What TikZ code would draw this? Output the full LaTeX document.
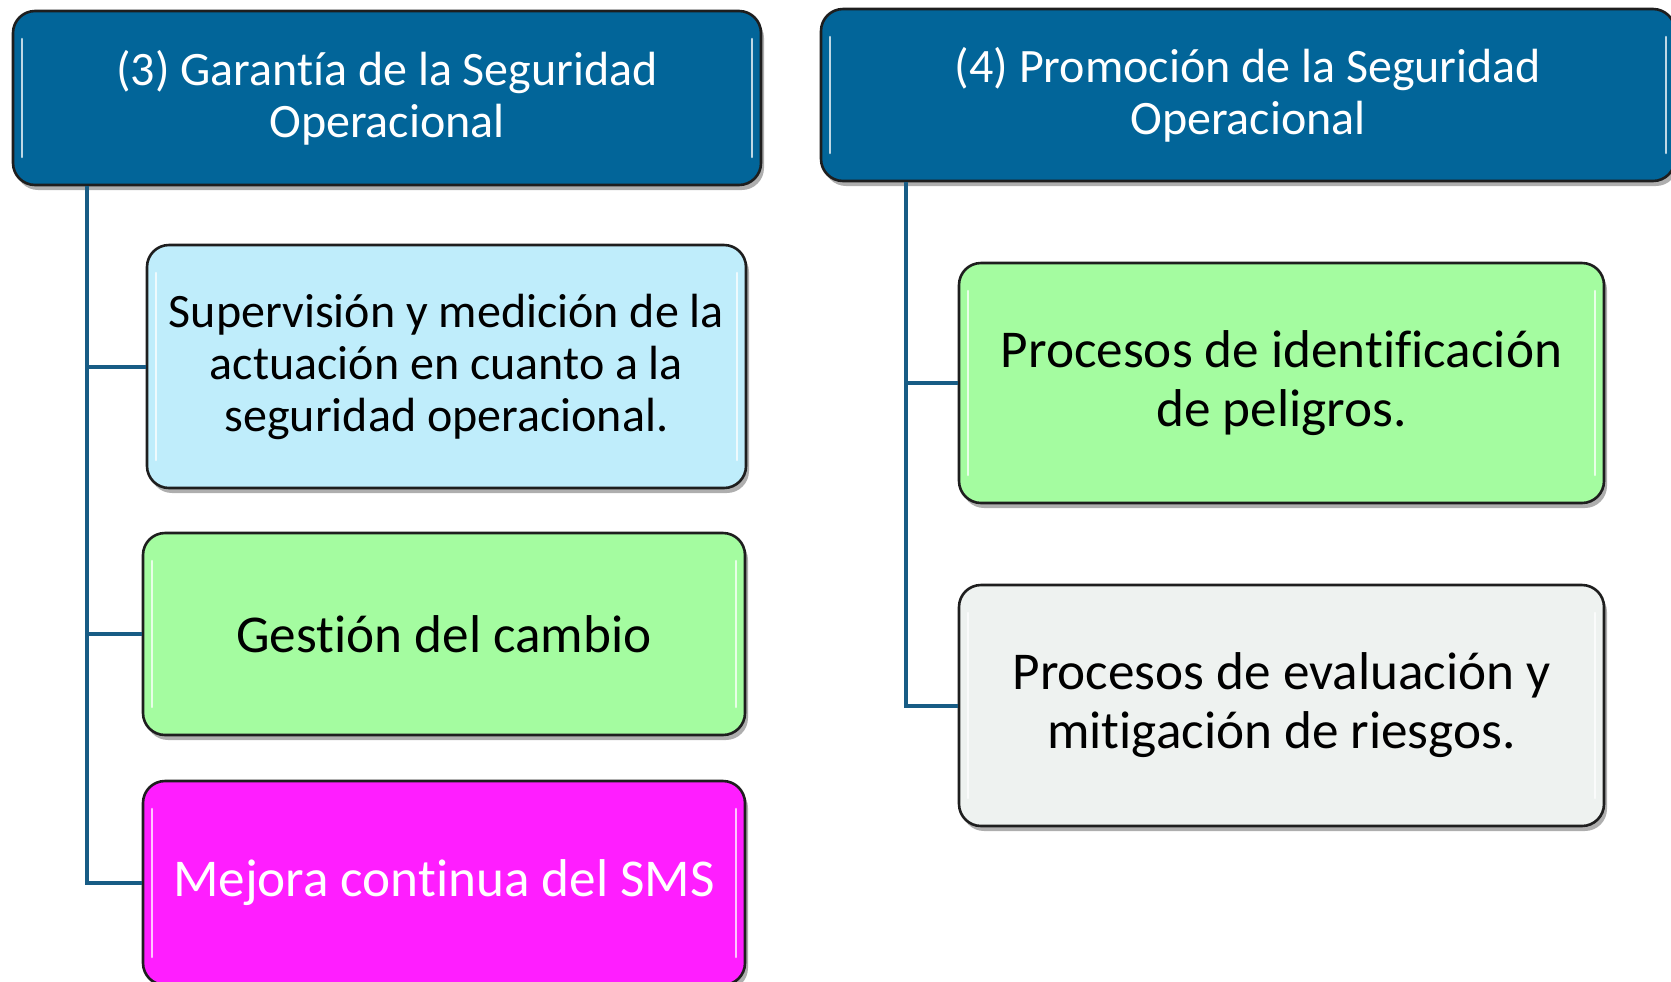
\documentclass[tikz,border=0pt]{standalone}
\usepackage{fontspec}
\setmainfont{Carlito}[Ligatures={NoCommon}]
\usetikzlibrary{shadows,calc}
\definecolor{hdrblue}{RGB}{2,101,153}
\definecolor{trunkc}{RGB}{24,92,133}
\definecolor{lblue}{RGB}{191,237,251}
\definecolor{lgreen}{RGB}{164,252,160}
\definecolor{mag}{RGB}{255,30,255}
\definecolor{lgray}{RGB}{238,242,240}
\definecolor{edgec}{RGB}{30,30,30}
\tikzset{
  gloss/.style={path picture={
    \draw[white,line width=1.3pt,opacity=.75,line cap=round]
      ([xshift=4.5pt,yshift=-14pt]path picture bounding box.north west) --
      ([xshift=4.5pt,yshift=14pt]path picture bounding box.south west);
    \draw[white,line width=1.3pt,opacity=.75,line cap=round]
      ([xshift=-4.5pt,yshift=-14pt]path picture bounding box.north east) --
      ([xshift=-4.5pt,yshift=14pt]path picture bounding box.south east);
  }},
  card/.style={draw=edgec,line width=1.3pt,rounded corners=11pt,align=center,
    inner sep=0pt,gloss,
    drop shadow={shadow xshift=1.5pt,shadow yshift=-2.5pt,opacity=.45,fill=black!70}},
  hdr/.style={card,fill=hdrblue,text=white,font=\fontsize{24}{26}\selectfont},
  trunk/.style={draw=trunkc,line width=2pt},
}
\begin{document}
\begin{tikzpicture}[x=0.5pt,y=-0.5pt]
\useasboundingbox (0,0) rectangle (1671,981);
% headers
\node[hdr,minimum width=374pt,minimum height=87pt] (h1) at (387,98)
  {(3) Garantía de la Seguridad\\Operacional};
\node[hdr,minimum width=427pt,minimum height=86pt] (h2) at (1248,95)
  {(4) Promoción de la Seguridad\\Operacional};
% left boxes
\node[card,fill=lblue,minimum width=299.5pt,minimum height=121.5pt,
  font=\fontsize{24}{26}\selectfont] (b1) at (446.5,366.5)
  {Supervisión y medición de la\\actuación en cuanto a la\\seguridad operacional.};
\node[card,fill=lgreen,minimum width=301pt,minimum height=101pt,
  font=\fontsize{26.6}{29}\selectfont] (b2) at (444,634)
  {Gestión del cambio};
\node[card,fill=mag,text=white,minimum width=301pt,minimum height=102pt,
  font=\fontsize{26.6}{29}\selectfont] (b3) at (444,883)
  {Mejora continua del SMS};
% right boxes
\node[card,fill=lgreen,minimum width=322.5pt,minimum height=120pt,
  font=\fontsize{26.6}{29.5}\selectfont] (b4) at (1281.5,383)
  {Procesos de identificación\\de peligros.};
\node[card,fill=lgray,minimum width=322.5pt,minimum height=120.5pt,
  font=\fontsize{26.6}{29.5}\selectfont] (b5) at (1281.5,705.5)
  {Procesos de evaluación y\\mitigación de riesgos.};
% trunks
\coordinate (t1) at ($(h1.south west)+(75,0)$);
\coordinate (t2) at ($(h2.south west)+(86,0)$);
\draw[trunk] (t1) |- (b1.west);
\draw[trunk] (t1) |- (b2.west);
\draw[trunk] (t1) |- (b3.west);
\draw[trunk] (t2) |- (b4.west);
\draw[trunk] (t2) |- (b5.west);
\end{tikzpicture}
\end{document}
